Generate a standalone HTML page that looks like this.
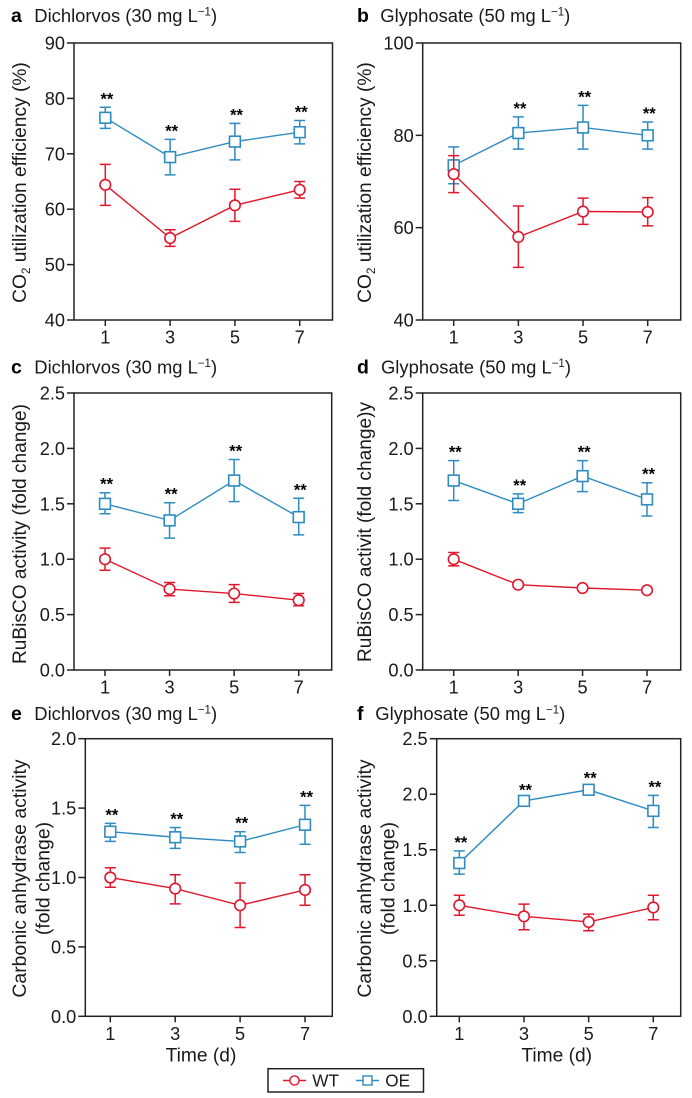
<!DOCTYPE html>
<html lang="en">
<head>
<meta charset="utf-8">
<title>CO2 utilization, RuBisCO and carbonic anhydrase activity</title>
<style>
html,body{margin:0;padding:0;background:#fff;width:692px;height:1098px;overflow:hidden}
svg{display:block}
text{font-family:"Liberation Sans",Arial,sans-serif;fill:#1a1a1a}
</style>
</head>
<body>
<svg id="figure" xmlns="http://www.w3.org/2000/svg" width="692" height="1098" viewBox="0 0 692 1098"></svg>
<script>
const days = [1, 3, 5, 7];

const aTicks = [40, 50, 60, 70, 80, 90];
const aWtMean = [64.4, 54.8, 60.7, 63.5];
const aWtUpper = [68.1, 56.3, 63.6, 65.0];
const aWtLower = [60.7, 53.3, 57.8, 62.0];
const aOeMean = [76.5, 69.4, 72.2, 73.9];
const aOeUpper = [78.4, 72.6, 75.5, 76.0];
const aOeLower = [74.6, 66.2, 68.9, 71.8];
const aStars = [true, true, true, true];

const bTicks = [40, 60, 80, 100];
const bWtMean = [71.6, 58.0, 63.5, 63.4];
const bWtUpper = [75.6, 64.7, 66.4, 66.5];
const bWtLower = [67.6, 51.4, 60.7, 60.4];
const bOeMean = [73.5, 80.5, 81.7, 80.0];
const bOeUpper = [77.5, 84.0, 86.5, 82.9];
const bOeLower = [69.5, 77.0, 77.0, 77.0];
const bStars = [false, true, true, true];

const cTicks = [0, 0.5, 1, 1.5, 2, 2.5];
const cWtMean = [1.0, 0.73, 0.69, 0.63];
const cWtUpper = [1.1, 0.79, 0.77, 0.69];
const cWtLower = [0.9, 0.67, 0.61, 0.58];
const cOeMean = [1.5, 1.35, 1.71, 1.38];
const cOeUpper = [1.6, 1.51, 1.9, 1.55];
const cOeLower = [1.41, 1.19, 1.52, 1.22];
const cStars = [true, true, true, true];

const dTicks = [0, 0.5, 1, 1.5, 2, 2.5];
const dWtMean = [1.0, 0.77, 0.74, 0.72];
const dWtUpper = [1.06, 0.79, 0.76, 0.74];
const dWtLower = [0.94, 0.75, 0.72, 0.7];
const dOeMean = [1.71, 1.5, 1.75, 1.54];
const dOeUpper = [1.89, 1.59, 1.89, 1.69];
const dOeLower = [1.53, 1.42, 1.61, 1.39];
const dStars = [true, true, true, true];

const eTicks = [0, 0.5, 1, 1.5, 2];
const eWtMean = [1.0, 0.92, 0.8, 0.91];
const eWtUpper = [1.07, 1.02, 0.96, 1.02];
const eWtLower = [0.93, 0.81, 0.64, 0.8];
const eOeMean = [1.33, 1.29, 1.26, 1.38];
const eOeUpper = [1.39, 1.36, 1.33, 1.52];
const eOeLower = [1.26, 1.21, 1.18, 1.24];
const eStars = [true, true, true, true];

const fTicks = [0, 0.5, 1, 1.5, 2, 2.5];
const fWtMean = [1.0, 0.9, 0.85, 0.98];
const fWtUpper = [1.09, 1.01, 0.92, 1.09];
const fWtLower = [0.91, 0.78, 0.77, 0.87];
const fOeMean = [1.38, 1.94, 2.04, 1.85];
const fOeUpper = [1.49, 1.96, 2.07, 1.99];
const fOeLower = [1.28, 1.92, 2.0, 1.7];
const fStars = [true, true, true, true];

const RED = '#e0182d';
const BLUE = '#2e8cc0';
const INK = '#222222';
const NS = 'http://www.w3.org/2000/svg';
const root = document.getElementById('figure');

function make(tag, props, parent) {
  const el = document.createElementNS(NS, tag);
  for (const k in props) el.setAttribute(k, props[k]);
  (parent || root).appendChild(el);
  return el;
}

function tickText(v, decimals) {
  return v.toFixed(decimals);
}

function titleBlock(g, letter, drug, letterX, titleX, baseY) {
  const l = make('text', {x: letterX, y: baseY, 'font-size': 19.5, 'font-weight': 'bold'}, g);
  
  
  l.style.fill = '#000';
  l.textContent = letter;
  const t = make('text', {x: titleX, y: baseY, 'font-size': 18.4}, g);
  
  
  const a = make('tspan', {}, t);
  a.textContent = drug + ' mg L';
  const b = make('tspan', {dy: -6.5, 'font-size': 11.5}, t);
  b.textContent = '\u22121';
  const c = make('tspan', {dy: 6.5}, t);
  c.textContent = ')';
}

function drawPanel(p) {
  const g = make('g', {});
  
  

  const yMin = p.ticks[0];
  const yMax = p.ticks[p.ticks.length - 1];
  const xScale = d => p.x1 + (d - days[0]) * (p.x7 - p.x1) / (days[days.length - 1] - days[0]);
  const yScale = v => p.bottom - (v - yMin) * (p.bottom - p.top) / (yMax - yMin);

  titleBlock(g, p.letter, p.drug, p.letterX, p.titleX, p.titleY);

  const frame = make('rect', {x: p.left, y: p.top, width: p.right - p.left, height: p.bottom - p.top, fill: '#fff', stroke: INK, 'stroke-width': 1.5}, g);
  
  

  p.ticks.forEach(v => {
    const y = yScale(v);
    const tk = make('line', {x1: p.left - 7, x2: p.left, y1: y, y2: y, stroke: INK, 'stroke-width': 1.5}, g);
    
    
    const lb = make('text', {x: p.left - 9, y: y + 6.5, 'font-size': 18.2, 'text-anchor': 'end'}, g);
    
    
    lb.textContent = tickText(v, p.decimals);
  });

  days.forEach(d => {
    const x = xScale(d);
    const tk = make('line', {x1: x, x2: x, y1: p.bottom, y2: p.bottom + 6, stroke: INK, 'stroke-width': 1.5}, g);
    
    
    const lb = make('text', {x: x, y: p.bottom + 23.5, 'font-size': 18.2, 'text-anchor': 'middle'}, g);
    
    
    lb.textContent = d;
  });

  p.yTitle.forEach((line, i) => {
    const cx = p.yTitleX[i];
    const cy = (p.top + p.bottom) / 2 + p.yTitleShift;
    const t = make('text', {transform: 'translate(' + cx + ',' + cy + ') rotate(-90)', 'text-anchor': 'middle', 'font-size': p.yTitleSize}, g);
    
    
    if (line.indexOf('CO2') === 0) {
      const s0 = make('tspan', {}, t);
      s0.textContent = 'CO';
      const s1 = make('tspan', {dy: 4, 'font-size': 11.5}, t);
      s1.textContent = '2';
      const s2 = make('tspan', {dy: -4}, t);
      s2.textContent = line.slice(3);
    } else {
      t.textContent = line;
    }
  });

  if (p.showTime) {
    const tt = make('text', {x: p.timeX, y: 1061.5, 'font-size': 19.2, 'text-anchor': 'middle'}, g);
    
    
    tt.textContent = 'Time (d)';
  }

  function series(name, color, mean, upper, lower) {
    const s = make('g', {}, g);
    
    

    mean.forEach((m, i) => {
      const x = xScale(days[i]);
      const yu = yScale(upper[i]);
      const yl = yScale(lower[i]);
      const e = make('path', {d: 'M' + (x - 5.5) + ' ' + yu + 'H' + (x + 5.5) + 'M' + x + ' ' + yu + 'V' + yl + 'M' + (x - 5.5) + ' ' + yl + 'H' + (x + 5.5), fill: 'none', stroke: color, 'stroke-width': 1.5}, s);
      
      
    });

    const pts = mean.map((m, i) => xScale(days[i]) + ',' + yScale(m)).join(' ');
    const ln = make('polyline', {points: pts, fill: 'none', stroke: color, 'stroke-width': 1.4}, s);
    
    

    mean.forEach((m, i) => {
      const x = xScale(days[i]);
      const y = yScale(m);
      let mk;
      if (name === 'wt') {
        mk = make('circle', {cx: x, cy: y, r: 5.3, fill: '#fff', stroke: color, 'stroke-width': 1.6}, s);
      } else {
        mk = make('rect', {x: x - 5.4, y: y - 5.4, width: 10.8, height: 10.8, fill: '#fff', stroke: color, 'stroke-width': 1.6}, s);
      }
      
      
    });
  }

  series('oe', BLUE, p.oeMean, p.oeUpper, p.oeLower);
  series('wt', RED, p.wtMean, p.wtUpper, p.wtLower);

  p.stars.forEach((on, i) => {
    if (!on) return;
    const st = make('text', {x: xScale(days[i]) + 1.6, y: yScale(p.oeUpper[i]) - 3, 'font-size': 16.5, 'font-weight': 'bold', 'text-anchor': 'middle'}, g);
    
    
    st.style.fill = '#000';
    st.textContent = '**';
  });
}

const co2Title = ['CO2 utilization efficiency (%)'];
const caTitle = ['Carbonic anhydrase activity', '(fold change)'];

drawPanel({letter: 'a', drug: 'Dichlorvos (30', letterX: 11, titleX: 34.3, titleY: 22, left: 74, right: 332.5, top: 43, bottom: 320, x1: 105.3, x7: 299.7,
  ticks: aTicks, decimals: 0, yTitle: co2Title, yTitleX: [26], yTitleShift: 1, yTitleSize: 19.2, wtMean: aWtMean, wtUpper: aWtUpper, wtLower: aWtLower, oeMean: aOeMean, oeUpper: aOeUpper, oeLower: aOeLower, stars: aStars});
drawPanel({letter: 'b', drug: 'Glyphosate (50', letterX: 357, titleX: 380.3, titleY: 22, left: 422.7, right: 680.7, top: 43, bottom: 320, x1: 453.7, x7: 647.7,
  ticks: bTicks, decimals: 0, yTitle: co2Title, yTitleX: [371], yTitleShift: 1, yTitleSize: 19.2, wtMean: bWtMean, wtUpper: bWtUpper, wtLower: bWtLower, oeMean: bOeMean, oeUpper: bOeUpper, oeLower: bOeLower, stars: bStars});
drawPanel({letter: 'c', drug: 'Dichlorvos (30', letterX: 11, titleX: 34.3, titleY: 373.3, left: 74, right: 331.7, top: 393, bottom: 670, x1: 105, x7: 298.7,
  ticks: cTicks, decimals: 1, yTitle: ['RuBisCO activity (fold change)'], yTitleX: [26], yTitleShift: 2.5, yTitleSize: 19.1, wtMean: cWtMean, wtUpper: cWtUpper, wtLower: cWtLower, oeMean: cOeMean, oeUpper: cOeUpper, oeLower: cOeLower, stars: cStars});
drawPanel({letter: 'd', drug: 'Glyphosate (50', letterX: 357, titleX: 381, titleY: 373.3, left: 422.7, right: 680.7, top: 393, bottom: 670, x1: 453.7, x7: 647,
  ticks: dTicks, decimals: 1, yTitle: ['RuBisCO activit (fold change)y'], yTitleX: [371], yTitleShift: 0.5, yTitleSize: 19.1, wtMean: dWtMean, wtUpper: dWtUpper, wtLower: dWtLower, oeMean: dOeMean, oeUpper: dOeUpper, oeLower: dOeLower, stars: dStars});
drawPanel({letter: 'e', drug: 'Dichlorvos (30', letterX: 11, titleX: 34.3, titleY: 720, left: 85.3, right: 332.3, top: 738.7, bottom: 1016.3, x1: 110.3, x7: 305,
  ticks: eTicks, decimals: 1, yTitle: caTitle, yTitleX: [26, 49.3], yTitleShift: 1, yTitleSize: 19.4, showTime: true, timeX: 201, wtMean: eWtMean, wtUpper: eWtUpper, wtLower: eWtLower, oeMean: eOeMean, oeUpper: eOeUpper, oeLower: eOeLower, stars: eStars});
drawPanel({letter: 'f', drug: 'Glyphosate (50', letterX: 357, titleX: 375.3, titleY: 720, left: 436.7, right: 680.7, top: 738.7, bottom: 1016.3, x1: 459.3, x7: 653.3,
  ticks: fTicks, decimals: 1, yTitle: caTitle, yTitleX: [371, 394.5], yTitleShift: 1, yTitleSize: 19.4, showTime: true, timeX: 556.7, wtMean: fWtMean, wtUpper: fWtUpper, wtLower: fWtLower, oeMean: fOeMean, oeUpper: fOeUpper, oeLower: fOeLower, stars: fStars});

const legend = make('g', {});


const legendBox = make('rect', {x: 268, y: 1068.7, width: 155.5, height: 23.3, fill: '#fff', stroke: INK, 'stroke-width': 1.5}, legend);



const wtEntry = make('g', {}, legend);


make('line', {x1: 283, x2: 306, y1: 1080.5, y2: 1080.5, stroke: RED, 'stroke-width': 1.4}, wtEntry);
make('circle', {cx: 294.5, cy: 1080.5, r: 4.6, fill: '#fff', stroke: RED, 'stroke-width': 1.4}, wtEntry);
const wtText = make('text', {x: 312.3, y: 1086.5, 'font-size': 17.2}, wtEntry);
wtText.textContent = 'WT';

const oeEntry = make('g', {}, legend);


make('line', {x1: 356, x2: 379, y1: 1080.5, y2: 1080.5, stroke: BLUE, 'stroke-width': 1.4}, oeEntry);
make('rect', {x: 363, y: 1076, width: 9, height: 9, fill: '#fff', stroke: BLUE, 'stroke-width': 1.4}, oeEntry);
const oeText = make('text', {x: 385.3, y: 1086.5, 'font-size': 17.2}, oeEntry);
oeText.textContent = 'OE';
</script>
</body>
</html>
